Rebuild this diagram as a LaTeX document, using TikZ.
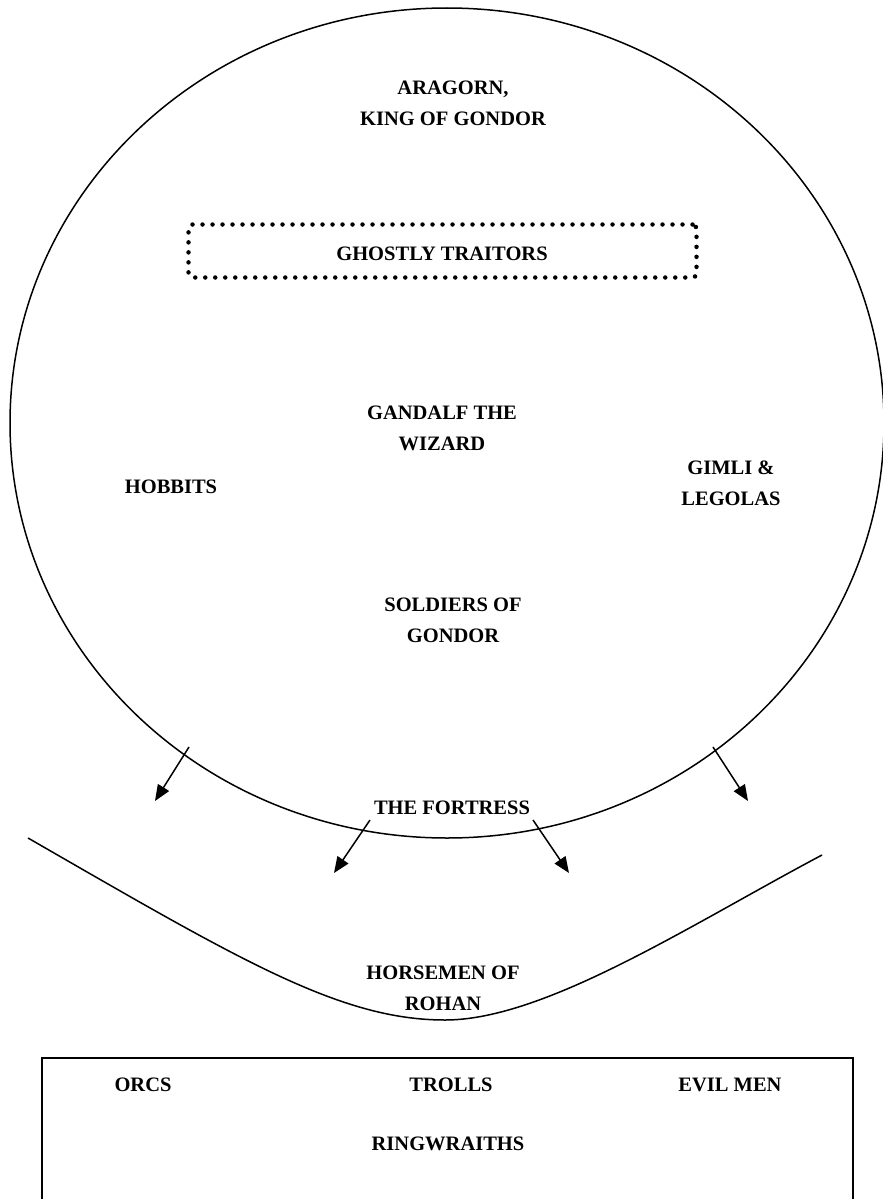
\documentclass[tikz,border=0pt]{standalone}
\usepackage{fontspec}
\setmainfont{Liberation Serif}
\usetikzlibrary{arrows.meta}
\tikzset{
  lbl/.style={font=\fontsize{20.5}{31}\selectfont\bfseries, align=center, inner sep=1pt},
  arr/.style={line width=1.5pt, -{Triangle[length=16pt,width=13pt]}},
  edge/.style={line width=1.5pt}
}
\begin{document}
\begin{tikzpicture}[x=1pt,y=-1pt]
\useasboundingbox (0,0) rectangle (883,1199);
\clip (0,0) rectangle (883,1199);
% big ellipse
\draw[edge] (447,423) ellipse [x radius=437, y radius=415];
% dotted box
\node[draw, line width=4.5pt, dash pattern=on 0pt off 10pt, line cap=round, rounded corners=4pt,
      minimum width=508pt, minimum height=53pt] (ghostbox) at (442.5,251) {};
\node[lbl] (ghost) at (442,254) {GHOSTLY TRAITORS};
\node[lbl] (aragorn) at (453,103) {ARAGORN,\\KING OF GONDOR};
\node[lbl] (gandalf) at (442,428) {GANDALF THE\\WIZARD};
\node[lbl] (hobbits) at (171,487) {HOBBITS};
\node[lbl] (gimli) at (731,483) {GIMLI \&\\LEGOLAS};
\node[lbl] (soldiers) at (453,620) {SOLDIERS OF\\GONDOR};
\node[lbl] (fortress) at (452,808) {THE FORTRESS};
\node[lbl] (horsemen) at (443,988) {HORSEMEN OF\\ROHAN};
% curve
\coordinate (cl) at (28,838);
\coordinate (cb) at (445,1020);
\coordinate (cr) at (822,855);
\draw[edge] (cl) .. controls (240,960) and (340,1020) .. (cb) .. controls (545,1020) and (690,925) .. (cr);
% arrows
\coordinate (a1s) at (189,747); \coordinate (a1e) at (155,801);
\coordinate (a2s) at (713,747); \coordinate (a2e) at (748,801);
\coordinate (a3s) at (370,820); \coordinate (a3e) at (334,873);
\coordinate (a4s) at (533,820); \coordinate (a4e) at (569,873);
\draw[arr] (a1s) -- (a1e);
\draw[arr] (a2s) -- (a2e);
\draw[arr] (a3s) -- (a3e);
\draw[arr] (a4s) -- (a4e);
% bottom box
\draw[edge] (42,1260) -- (42,1058) -- (853,1058) -- (853,1260);
\node[lbl] (orcs) at (143,1085) {ORCS};
\node[lbl] (trolls) at (451,1085) {TROLLS};
\node[lbl] (evil) at (730,1085) {EVIL MEN};
\node[lbl] (ring) at (448,1144) {RINGWRAITHS};
\end{tikzpicture}
\end{document}
